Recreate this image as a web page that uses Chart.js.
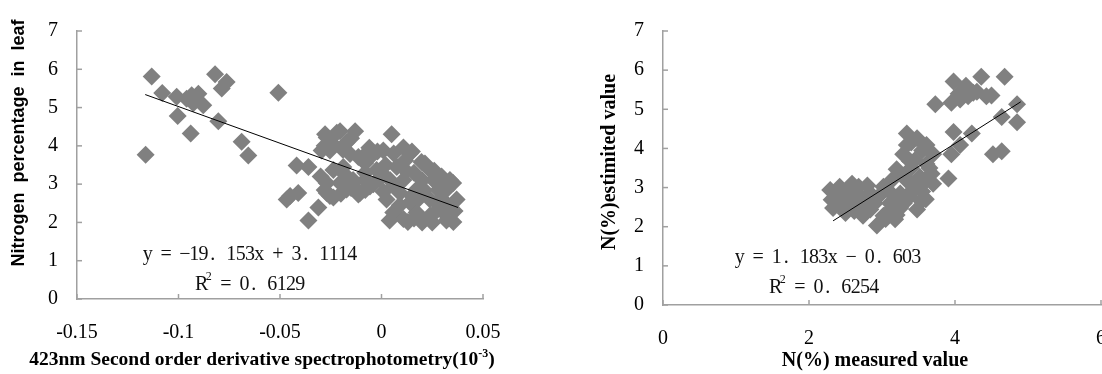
<!DOCTYPE html>
<html><head><meta charset="utf-8">
<script src="https://cdn.jsdelivr.net/npm/chart.js@4/dist/chart.umd.min.js"></script>
<style>
html,body{margin:0;padding:0;background:#fff;overflow:hidden;width:1102px;height:374px;}
#c1{position:absolute;left:0;top:0;}
#c2{position:absolute;left:551px;top:0;}
</style></head><body>
<canvas id="c1" width="551" height="374"></canvas>
<canvas id="c2" width="600" height="374"></canvas>
<script>
// ---------- DATA ----------
// Left chart: 423nm second order derivative vs nitrogen %
const leftX = [-0.1132,-0.1080,-0.1162,-0.1004,-0.1009,-0.0960,-0.0935,-0.0902,-0.0927,-0.0878,-0.0940,-0.0820,-0.0763,-0.0787,-0.0804,-0.0689,-0.0656,-0.0508,
  -0.0418,-0.0360,-0.0467,-0.0410,-0.0311,-0.0360,-0.0270,-0.0220,-0.0130,-0.0172,-0.0254,-0.0114,-0.0237,-0.0270,-0.0204,-0.0270,-0.0237,-0.0139,-0.0106,-0.0057,
  -0.0024,-0.0040,0.0009,0.0050,0.0108,0.0116,0.0075,0.0042,0.0108,0.0197,0.0239,0.0173,0.0256,0.0337,0.0370,0.0321,0.0025,0.0058,0.0108,0.0173,0.0239,0.0305,
  0.0354,0.0140,0.0239,0.0091,0.0272,0.0353,0.0214,0.0296,-0.0114,-0.0140,0.0130,-0.0065,-0.0080,-0.0278,-0.0204,-0.0450,-0.0254,-0.0172,-0.0188,-0.0081,-0.0155,-0.0295,
  -0.0240,-0.0190,-0.0150,-0.0280,-0.0300,-0.0180,-0.0080,-0.0040,-0.0150,-0.0200,-0.0280,-0.0010,-0.0080,-0.0020,-0.0060,
  0.0020,0.0060,0.0140,0.0160,0.0120,0.0200,0.0180,0.0210,0.0280,0.0300,0.0340,0.0270,0.0200,0.0060,0.0010,0.0090,0.0150,0.0250,0.0320,0.0040,0.0160,0.0360,0.0310,0.0000,0.0150,0.0260];
const leftY = [5.81,5.38,3.77,4.78,5.28,5.23,5.32,5.36,5.11,5.06,4.32,5.87,5.67,5.50,4.64,4.11,3.75,5.39,
  3.49,3.45,2.60,2.77,2.39,2.05,4.22,4.34,4.38,4.09,3.88,3.71,3.37,3.03,3.03,2.77,2.65,3.03,2.77,2.94,
  3.37,3.79,3.88,4.30,3.96,3.62,3.45,3.11,3.11,3.58,3.37,2.86,3.11,3.11,2.60,2.86,2.60,2.26,2.09,2.26,2.18,2.26,
  2.01,2.52,2.60,2.77,2.52,3.03,3.54,3.20,2.73,3.11,2.01,3.85,3.55,4.30,4.38,2.69,2.69,2.86,3.45,3.11,3.79,3.88,
  4.05,3.90,4.20,4.00,3.20,3.25,3.30,3.00,2.90,2.75,2.85,3.15,2.85,3.85,3.95,
  3.50,3.80,3.80,3.30,3.35,3.10,2.60,2.85,2.85,2.60,2.40,2.30,2.00,2.95,2.80,2.45,2.70,2.00,2.05,2.05,2.10,2.30,3.00,3.30,3.85,3.35];
const leftTrendX = [-0.1164, 0.0377];
const leftTrendY = [5.34, 2.39];
const leftXTicks = [-0.15,-0.1,-0.05,0,0.05];
const leftXTickLabels = ["-0.15","-0.1","-0.05","0","0.05"];
const leftYTicks = [0,1,2,3,4,5,6,7];

// Right chart: measured vs estimated N(%)
const rightX = [4.36,4.68,3.98,4.12,4.25,4.43,3.95,3.73,4.07,4.85,4.85,4.64,3.98,4.23,4.07,3.95,4.52,4.64,3.91,
  3.34,3.48,3.61,3.70,3.34,3.29,3.38,3.61,3.68,3.52,3.20,3.13,3.34,3.52,3.38,3.54,3.48,3.02,2.95,3.11,3.25,2.93,3.02,
  2.84,2.74,2.84,2.68,2.59,2.42,2.29,2.31,2.33,2.49,2.61,2.45,2.70,3.25,3.18,4.18,4.50,
  2.55,2.52,2.38,2.65,2.75,2.80,2.90,2.62,2.40,2.50,2.78,
  3.10,3.20,3.30,3.40,3.45,3.60,3.55,3.65,3.40,3.30,3.45,3.55,3.40,3.10,3.20,3.05,3.70,3.60,
  4.15,4.30,4.05];
const rightY = [5.83,5.83,5.71,5.50,5.42,5.33,5.17,5.13,5.25,5.13,4.67,4.80,4.42,4.38,4.09,3.85,3.85,3.93,3.23,
  4.38,4.26,4.09,3.85,4.09,3.85,3.68,3.60,3.35,3.27,3.47,3.18,3.18,3.02,2.77,2.65,2.44,3.02,2.77,2.60,2.48,2.03,2.28,
  2.44,2.28,2.85,3.02,3.10,3.02,2.94,2.69,2.48,2.44,2.65,2.77,2.52,2.85,2.19,5.33,5.35,
  2.85,2.60,2.85,2.85,2.70,3.05,2.60,2.40,2.60,2.35,2.55,
  2.90,2.70,2.60,2.90,3.10,3.20,2.90,3.50,3.50,3.30,3.70,3.95,4.15,2.40,2.30,2.20,3.10,2.70,
  5.60,5.45,5.40];
const rightTrendX = [2.33, 4.90];
const rightTrendY = [2.15, 5.19];
const rightXTicks = [0,2,4,6];
const rightXTickLabels = ["0","2","4","6"];
const rightYTicks = [0,1,2,3,4,5,6,7];

// ---------- STYLE ----------
const AXIS = '#a0a0a0';
const MARK = '#808080';
const SERIF = '"Liberation Serif", "Times New Roman", serif';
const SANS = '"Liberation Sans", Arial, sans-serif';

function pts(xs, ys){ return xs.map((x,i)=>({x:x, y:ys[i]})); }

const innerTicks = {
  id:'innerTicks',
  beforeDatasetsDraw(chart){
    const {ctx, chartArea:a, scales:{x,y}} = chart;
    ctx.save(); ctx.strokeStyle = AXIS; ctx.lineWidth = 1.5;
    x.ticks.forEach(t=>{ const p = x.getPixelForValue(t.value); ctx.beginPath(); ctx.moveTo(p,a.bottom); ctx.lineTo(p,a.bottom-5); ctx.stroke(); });
    y.ticks.forEach(t=>{ const p = y.getPixelForValue(t.value); ctx.beginPath(); ctx.moveTo(a.left,p); ctx.lineTo(a.left+5,p); ctx.stroke(); });
    ctx.restore();
  }
};

function drawMono(ctx, str, x, y, cell){
  ctx.textAlign='center';
  for(let i=0;i<str.length;i++){ ctx.fillText(str[i], x+cell*(i+0.5), y); }
}
function drawEq(ctx, eq, r2, ex, ey, rx, ry){
  ctx.save();
  ctx.fillStyle='#111'; ctx.textBaseline='middle';
  ctx.font = '20px '+SERIF;
  const cell=9.3;
  drawMono(ctx, eq, ex, ey, cell);
  drawMono(ctx, 'R', rx, ry, cell);
  ctx.font = '12px '+SERIF;
  ctx.textAlign='left';
  ctx.fillText('2', rx+cell-0.5, ry-8);
  ctx.font = '20px '+SERIF;
  drawMono(ctx, r2, rx+cell*1.6, ry, cell);
  ctx.restore();
}

function makeChart(id, cfg){
  return new Chart(document.getElementById(id), {
    type:'scatter',
    data:{ datasets:[
      { type:'line', data: pts(cfg.tx, cfg.ty), borderColor:'#000', borderWidth:1, pointRadius:0, fill:false, order:0 },
      { data: pts(cfg.xs, cfg.ys), pointStyle:'rectRot', pointRadius:9, pointHoverRadius:9, backgroundColor:MARK, borderColor:MARK, borderWidth:0, order:1 }
    ]},
    options:{
      responsive:false, animation:false, events:[],
      layout:{ padding: cfg.padding },
      plugins:{ legend:{display:false}, tooltip:{enabled:false} },
      scales:{
        x:{ type:'linear', min:cfg.xmin, max:cfg.xmax,
          afterFit:(s)=>{ s.height = cfg.xh; },
          afterBuildTicks:(s)=>{ s.ticks = cfg.xticks.map(v=>({value:v})); },
          ticks:{ callback:(v,i)=>cfg.xlabels[i], font:{family:SERIF, size:20}, color:'#000', padding:22, maxRotation:0, autoSkip:false },
          grid:{ display:false, drawTicks:false },
          border:{ display:true, color:AXIS, width:1.5 } },
        y:{ type:'linear', min:0, max:7,
          afterFit:(s)=>{ s.width = cfg.yw; },
          afterBuildTicks:(s)=>{ s.ticks = cfg.yticks.map(v=>({value:v})); },
          ticks:{ callback:(v)=>String(v), font:{family:SERIF, size:20}, color:'#000', padding:19, autoSkip:false },
          grid:{ display:false, drawTicks:false },
          border:{ display:true, color:AXIS, width:1.5 } }
      }
    },
    plugins:[innerTicks, { id:'texts', afterDraw(chart){ cfg.texts(chart.ctx); } }]
  });
}

makeChart('c1', {
  xs:leftX, ys:leftY, tx:leftTrendX, ty:leftTrendY, xmin:-0.15, xmax:0.05,
  xticks:leftXTicks, xlabels:leftXTickLabels, yticks:leftYTicks,
  padding:{left:0, top:24, right:68, bottom:0}, xh:75, yw:77,
  texts(ctx){
    ctx.save(); ctx.fillStyle='#000';
    ctx.save(); ctx.translate(24,143); ctx.rotate(-Math.PI/2);
    ctx.font='bold 18px '+SANS; ctx.textAlign='center'; ctx.textBaseline='alphabetic';
    ctx.fillText('Nitrogen  percentage  in  leaf',0,0); ctx.restore();
    const main='423nm Second order derivative spectrophotometry(10', sup='-3', end=')';
    ctx.font='bold 19.5px '+SERIF; const w1=ctx.measureText(main).width, w3=ctx.measureText(end).width;
    ctx.font='bold 12px '+SERIF; const w2=ctx.measureText(sup).width;
    let x0 = 262 - (w1+w2+w3)/2; ctx.textAlign='left'; ctx.textBaseline='alphabetic';
    ctx.font='bold 19.5px '+SERIF; ctx.fillText(main,x0,365);
    ctx.font='bold 12px '+SERIF; ctx.fillText(sup,x0+w1,357);
    ctx.font='bold 19.5px '+SERIF; ctx.fillText(end,x0+w1+w2,365);
    ctx.restore();
    drawEq(ctx, 'y = \u221219. 153x + 3. 1114', ' = 0. 6129', 143, 255, 197, 285);
  }
});

makeChart('c2', {
  xs:rightX, ys:rightY, tx:rightTrendX, ty:rightTrendY, xmin:0, xmax:6,
  xticks:rightXTicks, xlabels:rightXTickLabels, yticks:rightYTicks,
  padding:{left:0, top:23, right:50, bottom:0}, xh:69, yw:112,
  texts(ctx){
    ctx.save(); ctx.fillStyle='#000';
    ctx.save(); ctx.translate(64,162); ctx.rotate(-Math.PI/2);
    ctx.font='bold 20px '+SERIF; ctx.textAlign='center'; ctx.textBaseline='alphabetic';
    ctx.fillText('N(%)estimited value',0,0); ctx.restore();
    ctx.font='bold 20px '+SERIF; ctx.textAlign='center'; ctx.textBaseline='alphabetic';
    ctx.fillText('N(%) measured value',324,366);
    ctx.restore();
    drawEq(ctx, 'y = 1. 183x \u2212 0. 603', ' = 0. 6254', 184, 258, 220, 288);
  }
});
</script>
</body></html>
